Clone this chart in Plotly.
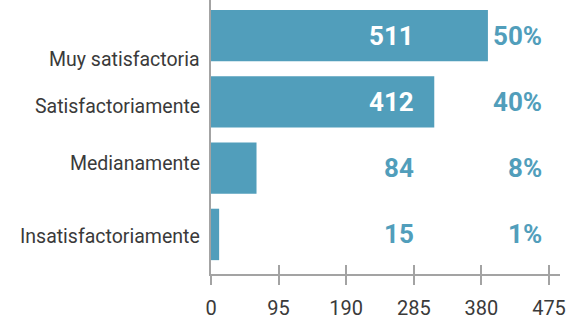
import plotly.graph_objects as go

# Survey results: satisfaction level, respondent counts and shares
categories = ["Muy satisfactoria", "Satisfactoriamente", "Medianamente", "Insatisfactoriamente"]
counts = [511, 412, 84, 15]
shares = ["50%", "40%", "8%", "1%"]
scale_max = 475
scale_step = 95

BLUE = "#519EBB"
GREY_LINE = "#A3A3A3"
TEXT = "#3A3A3A"

# pixel geometry of the plotting area
W, H = 581, 320
left, right, top, bottom = 211, 21, 0, 43
plot_w = W - left - right

bar_range = 644            # count units across the full plot width
scale_range = scale_max * plot_w / 338.0
count_col = 0.588          # paper x of the right edge of the count column
share_col = 0.954          # paper x of the right edge of the share column
label_nudge = [-24, -5, 5, -2]   # vertical nudge of each category label (px)

fig = go.Figure()
fig.add_trace(go.Bar(
    y=categories, x=counts, orientation="h",
    marker=dict(color=BLUE, line=dict(width=0)),
    xaxis="x", yaxis="y", hoverinfo="skip",
))

for cat, n, s, dy in zip(categories, counts, shares, label_nudge):
    inside = n > count_col * bar_range
    fig.add_annotation(
        x=count_col, xref="paper", y=cat, yref="y", xanchor="right",
        text=f"<b>{n}</b>", showarrow=False,
        font=dict(family="Roboto", size=26, color="white" if inside else BLUE),
    )
    fig.add_annotation(
        x=share_col, xref="paper", y=cat, yref="y", xanchor="right",
        text=f"<b>{s}</b>", showarrow=False,
        font=dict(family="Roboto", size=26, color=BLUE),
    )
    # category name to the left of the axis
    fig.add_annotation(
        x=0, xref="paper", y=cat, yref="y", xanchor="right",
        xshift=-9, yshift=dy, text=cat, showarrow=False,
        font=dict(family="Roboto", size=19.5, color=TEXT),
    )

fig.update_layout(
    width=W, height=H,
    margin=dict(l=left, r=right, t=top, b=bottom),
    paper_bgcolor="white", plot_bgcolor="white",
    showlegend=False, bargap=0.224,
    font=dict(family="Roboto", color=TEXT),
    xaxis=dict(range=[0, bar_range], visible=False, fixedrange=True),
    # visible value scale, ticks crossing the axis line
    xaxis2=dict(
        overlaying="x", side="bottom", anchor="y",
        range=[0, scale_range], tick0=0, dtick=scale_step,
        showgrid=False, zeroline=False,
        showline=True, linecolor=GREY_LINE, linewidth=1.5,
        ticks="outside", ticklen=9, tickcolor=GREY_LINE, tickwidth=1.5,
        tickfont=dict(size=20, color=TEXT), ticklabelstandoff=6,
    ),
    xaxis3=dict(
        overlaying="x", side="bottom", anchor="y",
        range=[0, scale_range], tick0=0, dtick=scale_step,
        showgrid=False, zeroline=False, showline=False,
        ticks="inside", ticklen=9, tickcolor=GREY_LINE, tickwidth=1.5,
        showticklabels=False,
    ),
    yaxis=dict(
        categoryorder="array", categoryarray=categories,
        range=[3.597, -0.537], showgrid=False, zeroline=False,
        showline=True, linecolor=GREY_LINE, linewidth=1.5,
        ticks="", showticklabels=False, fixedrange=True,
    ),
)

# empty traces so the overlay axes get drawn
fig.add_trace(go.Scatter(x=[None], y=[None], xaxis="x2", yaxis="y", hoverinfo="skip"))
fig.add_trace(go.Scatter(x=[None], y=[None], xaxis="x3", yaxis="y", hoverinfo="skip"))

fig.write_html("out.html")
